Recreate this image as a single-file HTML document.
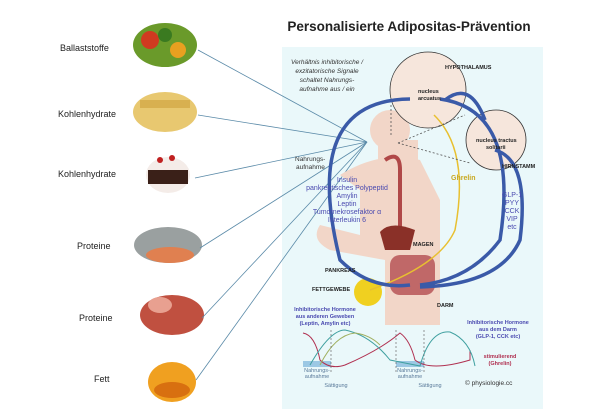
<!DOCTYPE html>
<html><head><meta charset="utf-8"><style>
body{margin:0;background:#fff;}
svg{display:block;font-family:"Liberation Sans",sans-serif;}
</style></head><body>
<svg width="600" height="413" viewBox="0 0 600 413">
<rect width="600" height="413" fill="#fff"/>
<text x="409" y="31" font-size="13.5" font-weight="bold" text-anchor="middle" fill="#222">Personalisierte Adipositas-Prävention</text>
<rect x="282" y="47" width="261" height="362" fill="#eaf8fa"/>
<g font-size="9" fill="#222">
<text x="60" y="51">Ballaststoffe</text>
<text x="58" y="117">Kohlenhydrate</text>
<text x="58" y="177">Kohlenhydrate</text>
<text x="77" y="249">Proteine</text>
<text x="79" y="321">Proteine</text>
<text x="94" y="382">Fett</text>
</g>
<g>
<ellipse cx="165" cy="45" rx="32" ry="22" fill="#6a9a2a"/><circle cx="150" cy="40" r="9" fill="#d03a20"/><circle cx="178" cy="50" r="8" fill="#e8a020"/><circle cx="165" cy="35" r="7" fill="#3a7a20"/>
<ellipse cx="165" cy="112" rx="32" ry="20" fill="#e8c870"/><rect x="140" y="100" width="50" height="8" fill="#d8b050"/>
<ellipse cx="168" cy="175" rx="22" ry="18" fill="#f4ece8"/><rect x="148" y="170" width="40" height="14" fill="#3a2018"/><circle cx="160" cy="160" r="3" fill="#c02020"/><circle cx="172" cy="158" r="3" fill="#c02020"/>
<ellipse cx="168" cy="245" rx="34" ry="18" fill="#9aa0a0"/><ellipse cx="170" cy="255" rx="24" ry="8" fill="#e08050"/>
<ellipse cx="172" cy="315" rx="32" ry="20" fill="#c05040"/><ellipse cx="160" cy="305" rx="12" ry="8" fill="#e8a090"/>
<ellipse cx="172" cy="382" rx="24" ry="20" fill="#f0a020"/><ellipse cx="172" cy="390" rx="18" ry="8" fill="#d87010"/>
</g>
<g stroke="#5a8aa8" stroke-width="0.8" fill="none">
<line x1="198" y1="50" x2="367" y2="142"/>
<line x1="198" y1="115" x2="367" y2="142"/>
<line x1="195" y1="178" x2="367" y2="142"/>
<line x1="200" y1="248" x2="367" y2="142"/>
<line x1="202" y1="318" x2="367" y2="142"/>
<line x1="196" y1="380" x2="367" y2="142"/>
</g>
<g fill="#f2d6c8">
<circle cx="390" cy="130" r="20"/>
<rect x="378" y="140" width="40" height="30"/>
<path d="M340 175 Q380 150 420 160 L440 200 L440 325 L385 325 L385 260 L330 250 Q310 240 320 225 L360 235 L360 190 Z"/>
</g>
<path d="M385 160 Q400 150 400 170 L400 230" stroke="#b04848" stroke-width="4" fill="none"/>
<path d="M380 232 Q390 220 415 230 L410 250 L385 250 Z" fill="#8a3028"/>
<rect x="390" y="255" width="45" height="40" rx="10" fill="#c06868"/>
<circle cx="368" cy="292" r="14" fill="#f0d020"/>
<circle cx="428" cy="90" r="38" fill="#f6e6dc" stroke="#333" stroke-width="0.8"/>
<circle cx="496" cy="140" r="30" fill="#f6e6dc" stroke="#333" stroke-width="0.8"/>
<path d="M434 115 Q470 150 455 230 Q440 265 370 290" stroke="#e8c030" stroke-width="1.5" fill="none"/>
<g stroke="#3a5aa8" stroke-width="3.5" fill="none">
<path d="M410 99 Q300 100 340 260 Q370 290 410 285"/>
<path d="M440 99 Q520 110 500 240 Q470 280 420 285"/>
<path d="M485 120 Q470 80 445 100"/>
<path d="M495 150 Q530 160 520 240 Q500 285 420 287"/>
</g>
<g stroke="#555" stroke-width="0.8" stroke-dasharray="2,2" fill="none">
<line x1="391" y1="105" x2="391" y2="136"/><line x1="398" y1="143" x2="465" y2="115"/><line x1="398" y1="143" x2="470" y2="163"/>
</g>
<g font-size="5.5" fill="#222" font-weight="bold">
<text x="445" y="69">HYPOTHALAMUS</text>
<text x="418" y="93">nucleus</text><text x="418" y="100">arcuatus</text>
<text x="476" y="142">nucleus tractus</text><text x="486" y="149">solitarii</text>
<text x="502" y="168">HIRNSTAMM</text>
<text x="413" y="246">MAGEN</text>
<text x="325" y="272">PANKREAS</text>
<text x="312" y="291">FETTGEWEBE</text>
<text x="437" y="307">DARM</text>
</g>
<g font-size="6.5" fill="#333" font-style="italic" text-anchor="middle">
<text x="327" y="64">Verhältnis inhibitorische /</text>
<text x="327" y="73">exzitatorische Signale</text>
<text x="327" y="82">schaltet Nahrungs-</text>
<text x="327" y="91">aufnahme aus / ein</text>
</g>
<text x="295" y="161" font-size="6.5" fill="#333">Nahrungs-</text>
<text x="296" y="169" font-size="6.5" fill="#333">aufnahme</text>
<g font-size="7" fill="#4a4ab0" text-anchor="middle">
<text x="347" y="182">Insulin</text>
<text x="347" y="190">pankreatisches Polypeptid</text>
<text x="347" y="198">Amylin</text>
<text x="347" y="206">Leptin</text>
<text x="347" y="214">Tumornekrosefaktor α</text>
<text x="347" y="222">Interleukin 6</text>
<text x="512" y="197">GLP-1</text><text x="512" y="205">PYY</text><text x="512" y="213">CCK</text><text x="512" y="221">VIP</text><text x="512" y="229">etc</text>
</g>
<text x="451" y="180" font-size="7" fill="#c8a820" font-weight="bold">Ghrelin</text>
<rect x="303" y="361" width="28" height="6" fill="#9cc8e4"/>
<rect x="396" y="361" width="28" height="6" fill="#9cc8e4"/>
<g fill="none" stroke-width="1">
<path d="M303 333 Q315 335 320 360 Q330 370 345 365 Q380 350 400 333 Q410 340 415 360 Q430 372 470 360 L470 350" stroke="#b03050"/>
<path d="M310 365 Q330 330 345 330 Q370 335 390 360 L420 366 Q430 330 450 332 Q470 340 475 366" stroke="#40a0a0"/>
<path d="M320 365 Q335 335 355 333 Q370 335 380 345" stroke="#a0b060"/>
</g>
<g stroke="#555" stroke-width="0.6" stroke-dasharray="2,2"><line x1="331" y1="330" x2="331" y2="372"/><line x1="396" y1="330" x2="396" y2="372"/><line x1="424" y1="330" x2="424" y2="372"/></g>
<g font-size="5.5" fill="#4a4ab0" font-weight="bold" text-anchor="middle">
<text x="325" y="311">Inhibitorische Hormone</text><text x="325" y="318">aus anderen Geweben</text><text x="325" y="325">(Leptin, Amylin etc)</text>
<text x="498" y="324">Inhibitorische Hormone</text><text x="498" y="331">aus dem Darm</text><text x="498" y="338">(GLP-1, CCK etc)</text>
</g>
<g font-size="5.5" fill="#b03050" font-weight="bold" text-anchor="middle"><text x="500" y="358">stimulierend</text><text x="500" y="365">(Ghrelin)</text></g>
<g font-size="5.5" fill="#5a7a9a" text-anchor="middle">
<text x="317" y="372">Nahrungs-</text><text x="317" y="378">aufnahme</text>
<text x="410" y="372">Nahrungs-</text><text x="410" y="378">aufnahme</text>
<text x="336" y="387">Sättigung</text><text x="430" y="387">Sättigung</text>
</g>
<text x="465" y="385" font-size="6.5" fill="#333">© physiologie.cc</text>
</svg>
</body></html>
